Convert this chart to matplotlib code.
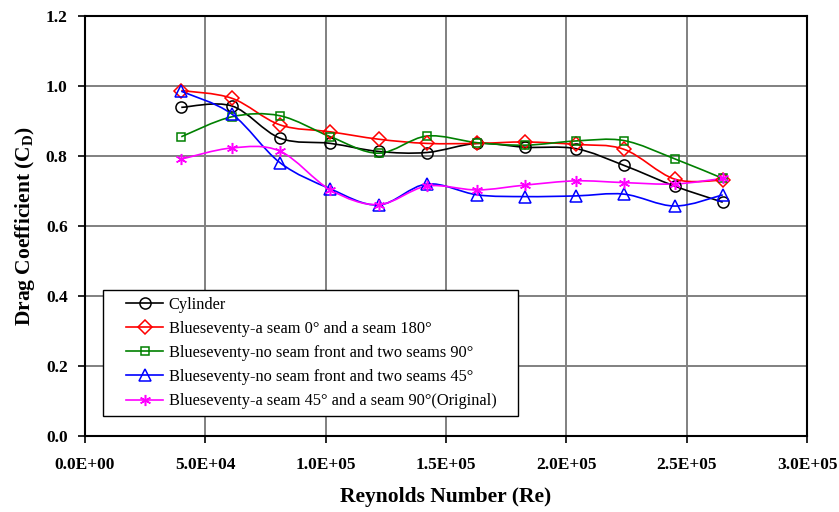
import numpy as np
import matplotlib
matplotlib.use("Agg")
import matplotlib.pyplot as plt
from matplotlib.path import Path
from matplotlib.patches import PathPatch
from matplotlib.lines import Line2D
from matplotlib.legend_handler import HandlerLine2D

plt.rcParams['font.family'] = ['Liberation Serif', 'DejaVu Serif']
plt.rcParams['mathtext.fontset'] = 'custom'
plt.rcParams['mathtext.rm'] = 'Liberation Serif'
plt.rcParams['mathtext.bf'] = 'Liberation Serif:bold'

# Datos
reynolds = [40000, 61000, 81000, 102000, 122000, 142000, 163000, 183000, 204000, 224000, 245000, 265000]

cylinder = [0.939, 0.943, 0.851, 0.836, 0.813, 0.810, 0.836, 0.825, 0.821, 0.773, 0.714, 0.668]
seam_0_180 = [0.987, 0.965, 0.889, 0.869, 0.848, 0.836, 0.836, 0.840, 0.833, 0.819, 0.734, 0.731]
noseam_90 = [0.855, 0.912, 0.915, 0.855, 0.808, 0.857, 0.838, 0.831, 0.843, 0.844, 0.792, 0.736]
noseam_45 = [0.985, 0.920, 0.781, 0.706, 0.660, 0.720, 0.689, 0.684, 0.686, 0.691, 0.657, 0.689]
seam_45_90 = [0.791, 0.823, 0.814, 0.703, 0.661, 0.714, 0.703, 0.717, 0.729, 0.724, 0.720, 0.736]

labels = ["Cylinder",
          "Blueseventy-a seam 0° and a seam 180°",
          "Blueseventy-no seam front and two seams 90°",
          "Blueseventy-no seam front and two seams 45°",
          "Blueseventy-a seam 45° and a seam 90°(Original)"]
series = [cylinder, seam_0_180, noseam_90, noseam_45, seam_45_90]
colors = ["black", "#FF0000", "#008000", "#0000FF", "#FF00FF"]
markers = ["o", "D", "s", "^", (6, 2, 0)]
msizes = [8, 7, 5.5, 8, 8]


# Curva suavizada tipo Excel (Bezier por tramos)
def curva_suave(ax, x, y, color):
    x = np.asarray(x, float)
    y = np.asarray(y, float)
    n = len(x)
    verts = [(x[0], y[0])]
    codes = [Path.MOVETO]
    for i in range(n - 1):
        p0 = (x[max(i - 1, 0)], y[max(i - 1, 0)])
        p1 = (x[i], y[i])
        p2 = (x[i + 1], y[i + 1])
        p3 = (x[min(i + 2, n - 1)], y[min(i + 2, n - 1)])
        c1 = (p1[0] + (p2[0] - p0[0]) / 6, p1[1] + (p2[1] - p0[1]) / 6)
        c2 = (p2[0] - (p3[0] - p1[0]) / 6, p2[1] - (p3[1] - p1[1]) / 6)
        verts += [c1, c2, p2]
        codes += [Path.CURVE4] * 3
    patch = PathPatch(Path(verts, codes), facecolor="none", edgecolor=color, lw=1.2, zorder=3)
    ax.add_patch(patch)


# Muestra de leyenda con un margen a la izquierda, como en Excel
class HandlerCorto(HandlerLine2D):
    def get_xdata(self, legend, xdescent, ydescent, width, height, fontsize):
        x0 = -xdescent + 0.31 * width
        x1 = -xdescent + width
        return np.array([x0, x1]), np.array([0.5 * (x0 + x1)])


fig = plt.figure(figsize=(8.39, 5.12), dpi=100)
ax = fig.add_axes([85 / 839, 1 - 436 / 512, 722 / 839, 420 / 512])

handles = []
for y, c, m, ms, lab in zip(series, colors, markers, msizes, labels):
    curva_suave(ax, reynolds, y, c)
    ax.plot(reynolds, y, linestyle="none", marker=m, ms=ms, mfc="none", mec=c, mew=1.1, zorder=4)
    handles.append(Line2D([], [], color=c, lw=1.2, marker=m, ms=ms, mfc="none", mec=c, mew=1.1, label=lab))

ax.set_xlim(0, 300000)
ax.set_ylim(0, 1.2)
ax.set_xticks(np.arange(0, 300001, 50000))
ax.set_yticks(np.arange(0, 1.21, 0.2))
ax.set_xticklabels(["0.0E+00", "5.0E+04", "1.0E+05", "1.5E+05", "2.0E+05", "2.5E+05", "3.0E+05"])
ax.set_yticklabels(["0.0", "0.2", "0.4", "0.6", "0.8", "1.0", "1.2"])
for t in ax.get_xticklabels() + ax.get_yticklabels():
    t.set_fontweight("bold")
    t.set_fontsize(12.5)
ax.tick_params(direction="out", length=5, width=1.2)
ax.tick_params(axis="x", pad=10)
ax.tick_params(axis="y", pad=7.5)
ax.grid(True, color="#808080", lw=1.4)
ax.set_axisbelow(True)
for s in ax.spines.values():
    s.set_linewidth(1.5)

ax.set_xlabel("Reynolds Number (Re)", fontsize=15.5, fontweight="bold", labelpad=10)
ax.set_ylabel(r"Drag Coefficient (C$_{\mathbf{D}}$)", fontsize=15.5, fontweight="bold", labelpad=6)

leg = ax.legend(handles=handles, loc="lower left", bbox_to_anchor=(0.0245, 0.048, 415 / 722, 0.3),
                mode="expand", borderaxespad=0, fontsize=11.8, frameon=True, fancybox=False,
                framealpha=1, edgecolor="black", handlelength=3.3, handletextpad=0.32,
                borderpad=0.4, labelspacing=0.5, numpoints=1,
                handler_map={Line2D: HandlerCorto()})
leg.get_frame().set_linewidth(1.0)

fig.savefig("out.png", dpi=100)
